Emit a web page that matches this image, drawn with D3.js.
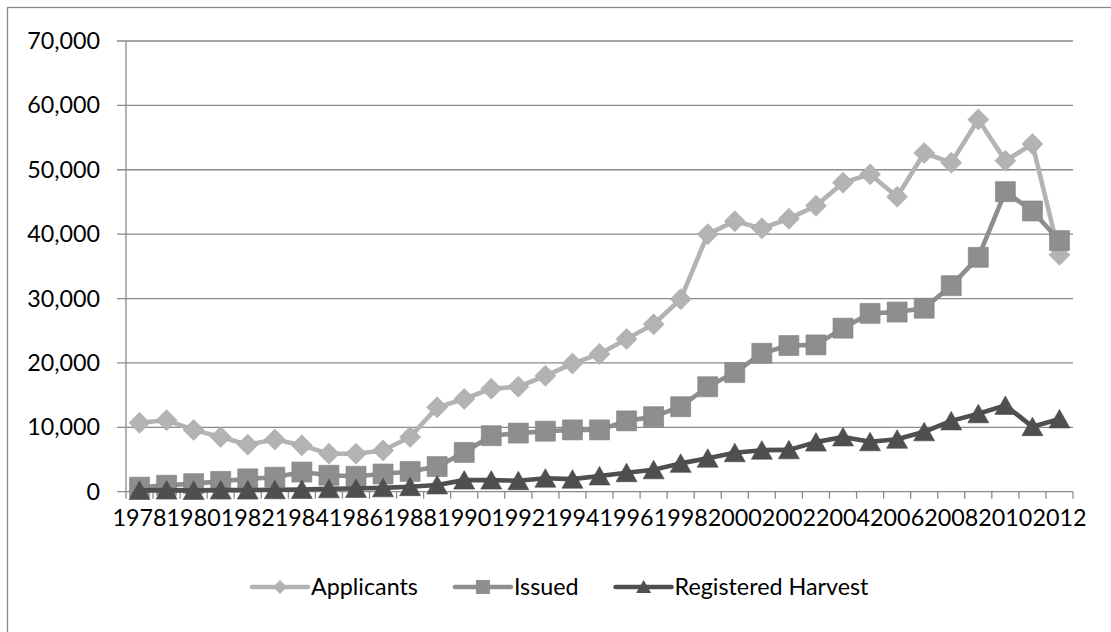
<!DOCTYPE html>
<html>
<head>
<meta charset="utf-8">
<script src="https://cdn.jsdelivr.net/npm/d3@7"></script>
<style>
  html, body { margin: 0; padding: 0; background: #fff; }
  svg { display: block; }
  text { font-family: Lato, "Open Sans", sans-serif; fill: #000; }
</style>
</head>
<body>
<svg id="chart" width="1111" height="632"></svg>
<script>
const years = [1978,1979,1980,1981,1982,1983,1984,1985,1986,1987,
               1988,1989,1990,1991,1992,1993,1994,1995,1996,1997,
               1998,1999,2000,2001,2002,2003,2004,2005,2006,2007,
               2008,2009,2010,2011,2012];
const applicants = [10700,11100,9600,8500,7300,8100,7200,5900,5900,6400,
                    8500,13100,14400,16000,16300,18000,19900,21400,23700,26000,
                    29900,40000,42000,40900,42400,44400,48000,49300,45800,52600,
                    51100,57800,51400,54000,36800];
const issued = [700,1000,1250,1600,2000,2250,3050,2550,2400,2750,
                3150,3900,6100,8700,9100,9400,9600,9600,11000,11650,
                13200,16300,18500,21500,22700,22800,25400,27700,27900,28500,
                32000,36400,46600,43600,39000];
const harvest = [200,250,200,250,250,300,350,450,500,600,
                 780,1050,1800,1800,1700,2100,1950,2450,2950,3400,
                 4400,5200,6050,6450,6500,7700,8500,7750,8150,9300,
                 11000,12100,13400,10100,11300];
const yTicks = [0,10000,20000,30000,40000,50000,60000,70000];
const xLabelYears = years.filter((d, i) => i % 2 === 0);
const seriesNames = ["Applicants", "Issued", "Registered Harvest"];

const series = [
  { name: seriesNames[0], values: applicants, color: "#b3b3b3", marker: "diamond" },
  { name: seriesNames[1], values: issued,     color: "#8e8e8e", marker: "square" },
  { name: seriesNames[2], values: harvest,    color: "#4f4f4f", marker: "triangle" }
];

const svg = d3.select("#chart");
const FONT = 23.3;
const gridColor = "#8a8a8a";

// chart frame (extends past the right/bottom edges)
svg.append("rect").attr("x", 7.5).attr("y", 7.5).attr("width", 1120).attr("height", 640)
  .attr("fill", "none").attr("stroke", "#8a8a8a").attr("stroke-width", 1.3);

const x = d3.scaleBand().domain(years).range([126, 1073]).padding(0);
const y = d3.scaleLinear().domain([0, 70000]).range([491.7, 41]);
const cx = d => x(d) + x.bandwidth() / 2;

// gridlines
svg.append("g").selectAll("line").data(yTicks).join("line")
  .attr("x1", 117).attr("x2", 1073)
  .attr("y1", d => y(d)).attr("y2", d => y(d))
  .attr("stroke", gridColor).attr("stroke-width", 1.3);

// y axis
const yAxis = d3.axisLeft(y).tickValues(yTicks).tickSize(0).tickPadding(26)
  .tickFormat(d3.format(","));
const yg = svg.append("g").attr("transform", "translate(126,0)").call(yAxis);
yg.select(".domain").remove();
yg.selectAll("text").attr("font-size", FONT).attr("font-family", "Lato").attr("fill", "#000");
svg.append("line").attr("x1", 126).attr("x2", 126).attr("y1", y(70000)).attr("y2", y(0))
  .attr("stroke", gridColor).attr("stroke-width", 1.3);

// x axis
const xAxis = d3.axisBottom(x).tickValues(xLabelYears).tickSize(0).tickPadding(18);
const xg = svg.append("g").attr("transform", `translate(0,${y(0)})`).call(xAxis);
xg.select(".domain").remove();
xg.selectAll("text").attr("font-size", FONT).attr("font-family", "Lato").attr("fill", "#000");
const boundaries = years.map(d => x(d)).concat([x.range()[1]]);
svg.append("g").selectAll("line").data(boundaries).join("line")
  .attr("x1", d => d).attr("x2", d => d)
  .attr("y1", y(0)).attr("y2", y(0) + 7)
  .attr("stroke", gridColor).attr("stroke-width", 1.3);

// marker shapes
function markerPath(type) {
  if (type === "diamond") return "M0,-10.5L10.5,0L0,10.5L-10.5,0Z";
  if (type === "square") return "M-10,-10H10V10H-10Z";
  return "M0,-9.5L10.5,9L-10.5,9Z";
}

const line = d3.line().x((d, i) => cx(years[i])).y(d => y(d));

series.forEach(s => {
  const g = svg.append("g");
  g.append("path").datum(s.values).attr("d", line)
    .attr("fill", "none").attr("stroke", s.color).attr("stroke-width", 4.6)
    .attr("stroke-linejoin", "round");
  g.selectAll("path.m").data(s.values).join("path").attr("class", "m")
    .attr("d", markerPath(s.marker))
    .attr("transform", (d, i) => `translate(${cx(years[i])},${y(d)})`)
    .attr("fill", s.color)
    .attr("stroke", d3.color(s.color).darker(0.25)).attr("stroke-width", 0.6);
});

// legend
const legendY = 587;
const legend = svg.append("g");
let lx = 252;
series.forEach(s => {
  const item = legend.append("g");
  item.append("line").attr("x1", lx).attr("x2", lx + 56).attr("y1", legendY).attr("y2", legendY)
    .attr("stroke", s.color).attr("stroke-width", 4.6).attr("stroke-linecap", "round");
  let mp = s.marker === "diamond" ? "M0,-7L7,0L0,7L-7,0Z"
         : s.marker === "square" ? "M-7,-7H7V7H-7Z" : "M0,-7L7.5,6L-7.5,6Z";
  item.append("path").attr("d", mp).attr("transform", `translate(${lx + 28},${legendY})`)
    .attr("fill", s.color);
  const t = item.append("text").attr("x", lx + 59).attr("y", legendY + 8)
    .attr("font-size", FONT).attr("font-family", "Lato").text(s.name);
  lx = lx + 59 + t.node().getComputedTextLength() + 37;
});
</script>
</body>
</html>
